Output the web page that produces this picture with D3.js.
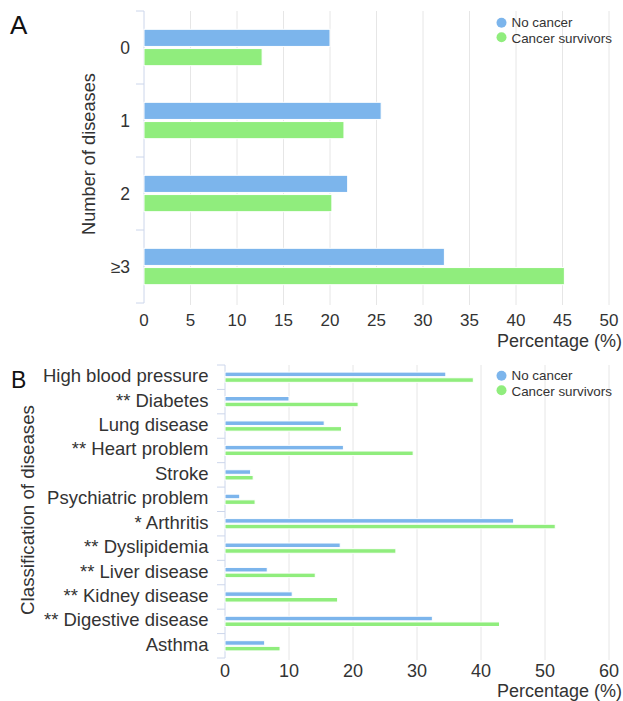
<!DOCTYPE html>
<html><head><meta charset="utf-8">
<script src="https://cdn.jsdelivr.net/npm/d3@7/dist/d3.min.js"></script>
<style>
body{margin:0;background:#fff;}
svg text{font-family:"Liberation Sans",Arial,Helvetica,sans-serif;}
</style></head>
<body><svg id="c" width="623" height="701"></svg>
<script>
const seriesNames = ["No cancer", "Cancer survivors"];
const colors = ["#7cb5ec", "#90ed7d"];

const catsA = ["0", "1", "2", "≥3"];
const noCancerA = [20.0, 25.5, 21.9, 32.3];
const survivorsA = [12.7, 21.5, 20.2, 45.2];
const ticksA = [0, 5, 10, 15, 20, 25, 30, 35, 40, 45, 50];

const catsB = ["High blood pressure", "** Diabetes", "Lung disease", "** Heart problem", "Stroke",
  "Psychiatric problem", "* Arthritis", "** Dyslipidemia", "** Liver disease", "** Kidney disease",
  "** Digestive disease", "Asthma"];
const noCancerB = [34.5, 10.0, 15.5, 18.5, 4.0, 2.3, 45.1, 18.0, 6.6, 10.5, 32.4, 6.2];
const survivorsB = [38.8, 20.8, 18.2, 29.4, 4.4, 4.7, 51.6, 26.7, 14.1, 17.6, 42.9, 8.6];
const ticksB = [0, 10, 20, 30, 40, 50, 60];

const svg = d3.select("#c");

function panel(o) {
  const g = svg.append("g");
  const x = d3.scaleLinear().domain([0, o.max]).range([o.x0, o.x1]);
  const y = d3.scaleBand().domain(o.cats).range([o.y0, o.y1]);
  g.selectAll(".grid").data(o.ticks.slice(1)).join("line")
    .attr("x1", d => x(d)).attr("x2", d => x(d))
    .attr("y1", o.y0).attr("y2", o.y1 + 2)
    .attr("stroke", "#e6e6e6").attr("stroke-width", 1);
  g.append("line").attr("x1", o.x0).attr("x2", o.x0).attr("y1", o.y0).attr("y2", o.y1)
    .attr("stroke", "#ccd6eb");
  const bounds = o.cats.map(c => y(c)).concat([o.y1]);
  g.selectAll(".tk").data(bounds).join("line")
    .attr("x1", o.x0 - 8).attr("x2", o.x0).attr("y1", d => d).attr("y2", d => d)
    .attr("stroke", "#ccd6eb");
  const inner = d3.scaleBand().domain([0, 1]).range([0, y.bandwidth()])
    .paddingInner(o.pIn).paddingOuter(o.pOut);
  [o.s0, o.s1].forEach((arr, si) => {
    g.selectAll(".b" + si).data(arr).join("rect")
      .attr("x", x(0)).attr("y", (d, i) => y(o.cats[i]) + inner(si))
      .attr("width", d => x(d) - x(0)).attr("height", inner.bandwidth())
      .attr("fill", colors[si]).attr("stroke", "#fff").attr("stroke-width", 1);
  });
  g.selectAll(".cl").data(o.cats).join("text")
    .attr("x", o.labelX).attr("y", d => y(d) + y.bandwidth() / 2 + o.labelDy)
    .attr("text-anchor", "end").attr("font-size", o.fs).attr("fill", "#333")
    .text(d => d);
  g.selectAll(".xl").data(o.ticks).join("text")
    .attr("x", d => x(d)).attr("y", o.tickY)
    .attr("text-anchor", "middle").attr("font-size", o.tfs).attr("fill", "#333")
    .text(d => d);
  g.append("text").attr("x", o.xTitleX).attr("y", o.xTitleY).attr("text-anchor", "end")
    .attr("font-size", 18).attr("fill", "#333").text("Percentage (%)");
  g.append("text").attr("transform", `translate(${o.yTitleX},${o.yTitleY}) rotate(-90)`)
    .attr("text-anchor", "middle").attr("font-size", o.yfs).attr("fill", "#333").text(o.yTitle);
  g.append("text").attr("x", o.letterX).attr("y", o.letterY).attr("font-size", o.lfs)
    .attr("fill", "#111").text(o.letter);
  seriesNames.forEach((n, i) => {
    g.append("circle").attr("cx", o.legX).attr("cy", o.legY + i * 14.5).attr("r", 5).attr("fill", colors[i]);
    g.append("text").attr("x", o.legX + 10).attr("y", o.legY + 4.6 + i * 16)
      .attr("font-size", 13.4).attr("fill", "#333").text(n);
  });
}

panel({
  cats: catsA, s0: noCancerA, s1: survivorsA, ticks: ticksA, max: 50,
  x0: 144, x1: 609, y0: 11, y1: 303, pIn: 0.11, pOut: 0.95,
  labelX: 130, labelDy: 6, fs: 17.5, tfs: 17, tickY: 326, xTitleX: 622, xTitleY: 347,
  yTitle: "Number of diseases", yfs: 18.2, yTitleX: 95, yTitleY: 154,
  letter: "A", lfs: 26, letterX: 10, letterY: 34,
  legX: 501.5, legY: 22.7
});
panel({
  cats: catsB, s0: noCancerB, s1: survivorsB, ticks: ticksB, max: 60,
  x0: 225, x1: 609, y0: 365, y1: 658, pIn: 0.2, pOut: 1.25,
  labelX: 208.5, labelDy: 5, fs: 18.5, tfs: 18, tickY: 677, xTitleX: 622, xTitleY: 697,
  yTitle: "Classification of diseases", yfs: 18.7, yTitleX: 33.5, yTitleY: 510,
  letter: "B", lfs: 23, letterX: 11, letterY: 388,
  legX: 501.5, legY: 375.7
});
</script></body></html>
